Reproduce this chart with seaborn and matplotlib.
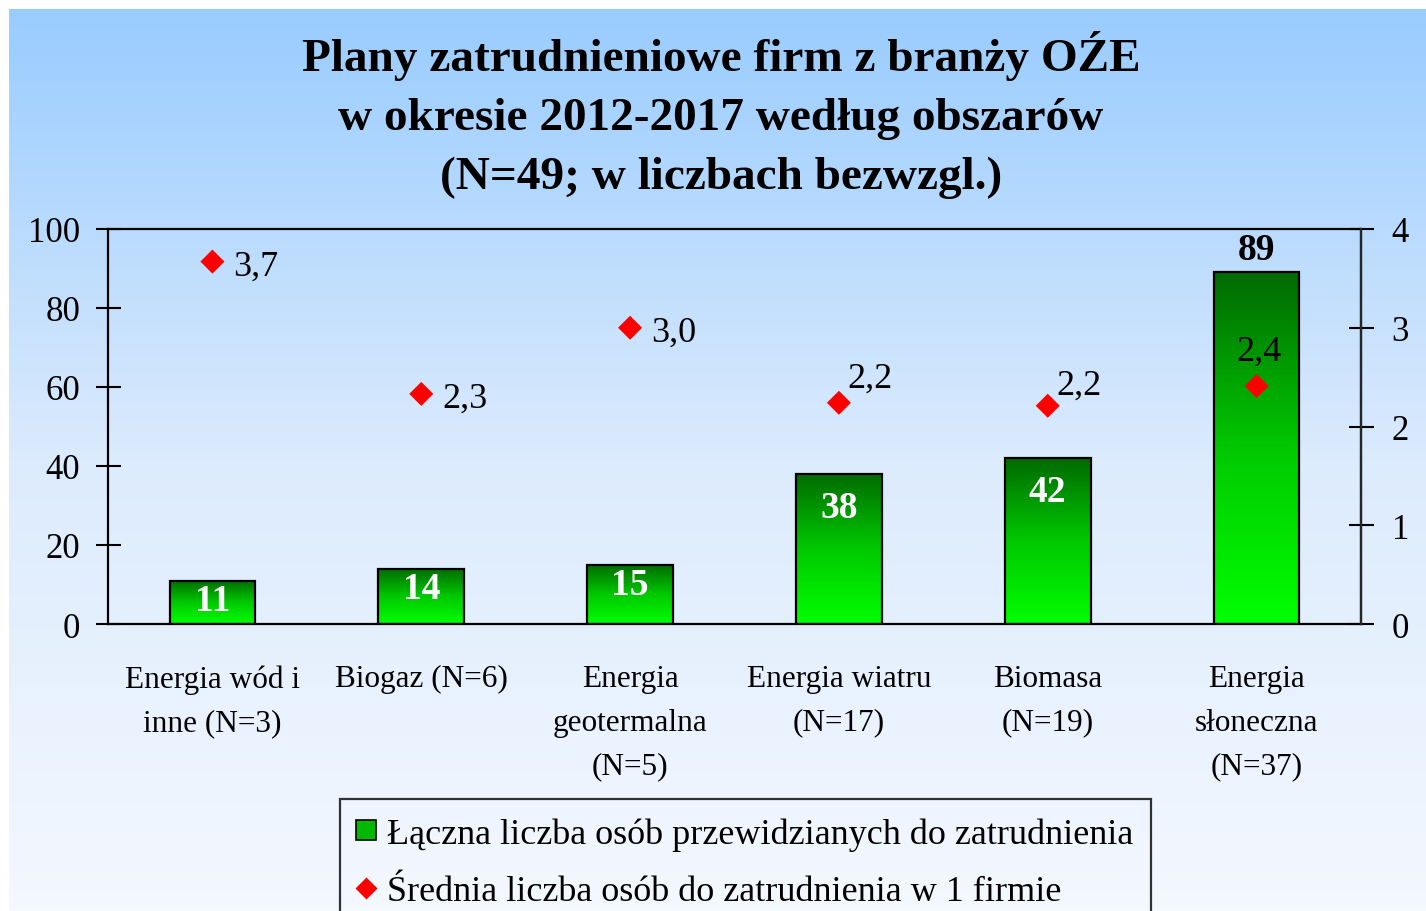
import numpy as np
import pandas as pd
import seaborn as sns
import matplotlib
matplotlib.use("Agg")
from matplotlib import pyplot as plt
from matplotlib.colors import LinearSegmentedColormap
from matplotlib.lines import Line2D

# data
categories = [
    "Energia wód i\ninne (N=3)",
    "Biogaz (N=6)",
    "Energia\ngeotermalna\n(N=5)",
    "Energia wiatru\n(N=17)",
    "Biomasa\n(N=19)",
    "Energia\nsłoneczna\n(N=37)",
]
total_jobs = [11, 14, 15, 38, 42, 89]
avg_per_firm = [3.67, 2.33, 3.0, 2.24, 2.21, 2.41]

title = "Plany zatrudnieniowe firm z branży OŹE\nw okresie 2012-2017 według obszarów\n(N=49; w liczbach bezwzgl.)"
bar_label = "Łączna liczba osób przewidzianych do zatrudnienia"
dot_label = "Średnia liczba osób do zatrudnienia w 1 firmie"

sns.set_style("white")
plt.rcParams["font.family"] = ["Liberation Serif", "DejaVu Serif"]
plt.rcParams["text.color"] = "black"
plt.rcParams["xtick.color"] = "black"
plt.rcParams["ytick.color"] = "black"
plt.rcParams["axes.labelcolor"] = "black"

W, H = 1426, 912
fig = plt.figure(figsize=(W / 100, H / 100), dpi=100, facecolor="white")

# background gradient (light blue top -> almost white bottom)
bg = fig.add_axes([9 / W, 0, 1 - 9 / W, 1 - 10 / H], zorder=-10)
bg_cmap = LinearSegmentedColormap.from_list("bg", ["#F4F8FF", "#DCEBFD", "#99CCFF"])
bg.imshow(np.linspace(0, 1, 256).reshape(-1, 1), aspect="auto", cmap=bg_cmap,
          origin="lower", extent=[0, 1, 0, 1])
bg.axis("off")

ax = fig.add_axes([108 / W, 1 - 625 / H, (1361 - 108) / W, (625 - 230) / H])
ax.patch.set_alpha(0)

df = pd.DataFrame({"cat": categories, "jobs": total_jobs})
sns.barplot(data=df, x="cat", y="jobs", ax=ax, width=0.41, color="#00C000",
            edgecolor="black", linewidth=1.6, zorder=3)

# vertical green gradient inside each bar
bar_cmap = LinearSegmentedColormap.from_list("bar", ["#00FF00", "#00C800", "#006A00"])
grad = np.linspace(0, 1, 256).reshape(-1, 1)
for p in ax.patches:
    x0, y0 = p.get_x(), p.get_y()
    w, h = p.get_width(), p.get_height()
    im = ax.imshow(grad, extent=[x0, x0 + w, y0, y0 + h], aspect="auto",
                   cmap=bar_cmap, origin="lower", zorder=2)
    im.set_clip_path(p)
    p.set_facecolor("none")

ax.set_xlim(-0.5, len(categories) - 0.5)
ax.set_ylim(0, 100)
ax.set_yticks(range(0, 101, 20))
ax.set_xlabel("")
ax.set_ylabel("")

# bar value labels
for i, v in enumerate(total_jobs):
    if v > 80:
        ax.text(i, v + 1.5, str(v), ha="center", va="bottom", fontsize=27,
                fontweight="bold", color="black", zorder=5)
    else:
        off = 5 if v < 20 else 8.5
        ax.text(i, v - off, str(v), ha="center", va="center", fontsize=27,
                fontweight="bold", color="white", zorder=5)

for s in ax.spines.values():
    s.set_visible(True)
    s.set_linewidth(1.6)
    s.set_color("black")

ax.tick_params(axis="y", direction="inout", length=18, width=1.5, labelsize=25, pad=11)
ax.set_xticks(np.arange(-0.5, len(categories), 1), minor=True)
ax.tick_params(axis="x", which="major", length=0, labelsize=22.5, pad=29)
ax.tick_params(axis="x", which="minor", direction="inout", length=15, width=1.5)
for t in ax.get_xticklabels():
    t.set_linespacing(1.65)

# secondary axis: average per firm
ax2 = ax.twinx()
sns.scatterplot(x=np.arange(len(categories)), y=avg_per_firm, ax=ax2, marker="D",
                s=150, color="red", edgecolor="none", zorder=6)
ax2.set_ylim(0, 4)
ax2.set_yticks(range(0, 5))
ax2.tick_params(axis="y", direction="inout", length=18, width=1.5, labelsize=25, pad=13)
for s in ax2.spines.values():
    s.set_visible(False)
ax2.spines["right"].set_visible(True)
ax2.spines["right"].set_linewidth(1.6)

offsets = [(15, -3), (15, -3), (15, -3), (6, 18), (6, 15), (2, 25)]
for i, (v, off) in enumerate(zip(avg_per_firm, offsets)):
    txt = f"{v:.1f}".replace(".", ",")
    ha = "center" if i == len(avg_per_firm) - 1 else "left"
    ax2.annotate(txt, (i, v), xytext=off, textcoords="offset points",
                 ha=ha, va="center", fontsize=26, zorder=7)

fig.text(721 / W, 1 - 115 / H, title, ha="center", va="center", fontsize=34,
         fontweight="bold", linespacing=1.53)

handles = [
    Line2D([], [], marker="s", linestyle="none", markersize=15,
           markerfacecolor="#00B800", markeredgecolor="black", markeredgewidth=1.2),
    Line2D([], [], marker="D", linestyle="none", markersize=11,
           markerfacecolor="red", markeredgecolor="none"),
]
leg = fig.legend(handles, [bar_label, dot_label], loc="upper left",
                 bbox_to_anchor=(340 / W, 1 - 800 / H), fontsize=26,
                 frameon=True, fancybox=False, edgecolor="black",
                 facecolor="none", framealpha=None, borderpad=0.5,
                 labelspacing=0.68, handlelength=0.45, handletextpad=0.35,
                 borderaxespad=0)
leg.get_frame().set_linewidth(1.6)

fig.savefig("out.png", dpi=100)
